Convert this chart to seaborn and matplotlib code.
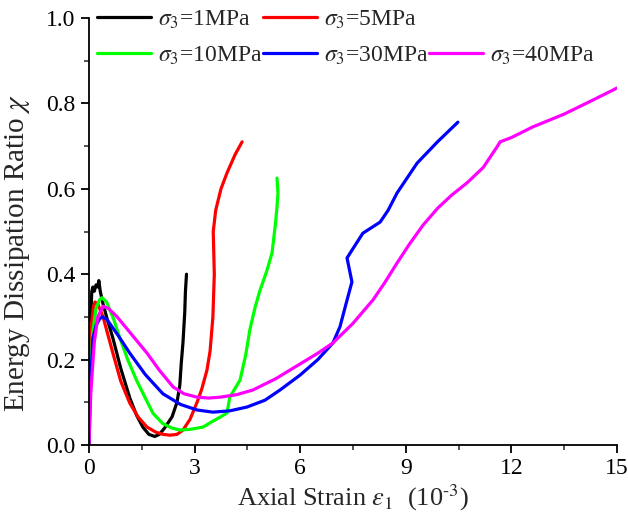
import matplotlib
matplotlib.use("Agg")
import matplotlib.pyplot as plt
from matplotlib.lines import Line2D
from matplotlib.ticker import MultipleLocator
import numpy as np
import pandas as pd
import seaborn as sns

# Energy dissipation ratio vs axial strain (strain in 1e-3) for each confining pressure
x_1 = [0, 0.02, 0.05, 0.08, 0.11, 0.15, 0.2, 0.25, 0.28, 0.32, 0.4, 0.5, 0.68, 0.9,
       1.16, 1.35, 1.53, 1.7, 1.87, 2.0, 2.15, 2.36, 2.5, 2.58, 2.62, 2.67, 2.72, 2.74, 2.77]
y_1 = [0, 0.15, 0.30, 0.36, 0.37, 0.36, 0.375, 0.37, 0.385, 0.36, 0.33, 0.30, 0.25, 0.18,
       0.11, 0.07, 0.042, 0.025, 0.02, 0.025, 0.04, 0.066, 0.10, 0.14, 0.19, 0.24, 0.31, 0.36, 0.40]

x_5 = [0, 0.03, 0.07, 0.12, 0.17, 0.25, 0.4, 0.68, 0.9, 1.16, 1.4, 1.65, 1.9, 2.1, 2.3,
       2.5, 2.67, 2.87, 3.07, 3.2, 3.35, 3.44, 3.52, 3.56, 3.53, 3.6, 3.75, 3.92, 4.15, 4.35]
y_5 = [0, 0.15, 0.28, 0.32, 0.335, 0.33, 0.30, 0.215, 0.15, 0.098, 0.065, 0.042, 0.03, 0.025, 0.023,
       0.025, 0.035, 0.06, 0.10, 0.13, 0.175, 0.22, 0.30, 0.40, 0.50, 0.55, 0.60, 0.637, 0.68, 0.71]

x_10 = [0, 0.04, 0.1, 0.2, 0.3, 0.37, 0.5, 0.7, 0.88, 1.1, 1.36, 1.6, 1.82, 2.1, 2.35, 2.59,
        2.9, 3.24, 3.5, 3.72, 3.92, 4.0, 4.29, 4.45, 4.57, 4.72, 4.85, 5.06, 5.2, 5.3, 5.34, 5.37, 5.34]
y_10 = [0, 0.14, 0.26, 0.32, 0.34, 0.345, 0.335, 0.295, 0.25, 0.20, 0.15, 0.11, 0.074, 0.05, 0.04, 0.035,
        0.037, 0.042, 0.055, 0.065, 0.075, 0.112, 0.152, 0.21, 0.27, 0.323, 0.36, 0.41, 0.45, 0.52, 0.557, 0.59, 0.625]

x_30 = [0, 0.03, 0.11, 0.2, 0.3, 0.37, 0.5, 0.8, 1.16, 1.6, 2.1, 2.6, 3.07, 3.52, 4.0, 4.49,
        5.0, 5.43, 6.0, 6.5, 6.93, 7.13, 7.3, 7.47, 7.4, 7.33, 7.5, 7.78, 8.27, 8.5, 8.75, 9.32, 9.9, 10.48]
y_30 = [0, 0.12, 0.25, 0.28, 0.295, 0.30, 0.295, 0.26, 0.215, 0.165, 0.12, 0.095, 0.082, 0.077, 0.08, 0.089,
        0.105, 0.129, 0.164, 0.2, 0.239, 0.277, 0.33, 0.382, 0.41, 0.438, 0.46, 0.496, 0.522, 0.55, 0.59, 0.66, 0.71, 0.756]

x_40 = [0, 0.05, 0.15, 0.25, 0.4, 0.55, 0.8, 1.2, 1.65, 2.0, 2.39, 2.7, 3.07, 3.4, 3.72, 4.2,
        4.66, 5.3, 6.0, 6.5, 6.93, 7.5, 8.07, 8.4, 8.75, 9.1, 9.49, 9.91, 10.3, 10.74, 11.2,
        11.59, 11.68, 12.0, 12.61, 13.5, 14.32, 15.0]
y_40 = [0, 0.12, 0.24, 0.3, 0.325, 0.32, 0.3, 0.26, 0.215, 0.175, 0.136, 0.12, 0.112, 0.11, 0.112, 0.118,
        0.129, 0.155, 0.19, 0.215, 0.239, 0.285, 0.34, 0.38, 0.426, 0.47, 0.515, 0.555, 0.585, 0.614, 0.65,
        0.698, 0.71, 0.72, 0.745, 0.775, 0.808, 0.836]

pressures = ["1", "5", "10", "30", "40"]
colors = ["#000000", "#ff0000", "#00ff00", "#0000ff", "#ff00ff"]
series = [(x_1, y_1), (x_5, y_5), (x_10, y_10), (x_30, y_30), (x_40, y_40)]

labels = [rf"$\sigma_3$={p}MPa" for p in pressures]
frames = []
for lab, (xs, ys) in zip(labels, series):
    frames.append(pd.DataFrame({"strain": xs, "ratio": ys, "case": lab,
                                "idx": np.arange(len(xs))}))
df = pd.concat(frames, ignore_index=True)

sns.set_style("ticks")
plt.rcParams["font.family"] = ["Liberation Serif", "DejaVu Serif"]
plt.rcParams["mathtext.fontset"] = "stix"

fig = plt.figure(figsize=(6.28, 5.2), dpi=100)
ax = fig.add_axes([0.1417, 0.1442, 0.8408, 0.8212])

sns.lineplot(data=df, x="strain", y="ratio", hue="case", hue_order=labels,
             palette=dict(zip(labels, colors)), sort=False, estimator=None,
             units="case", linewidth=2.3, legend=False, ax=ax)

ax.set_xlim(0, 15)
ax.set_ylim(0, 1.0)
ax.xaxis.set_major_locator(MultipleLocator(3))
ax.xaxis.set_minor_locator(MultipleLocator(1.5))
ax.yaxis.set_major_locator(MultipleLocator(0.2))
ax.yaxis.set_minor_locator(MultipleLocator(0.1))
ax.set_xticklabels([f"{int(v)}" for v in ax.get_xticks()])
ax.set_yticklabels([f"{v:.1f}" for v in ax.get_yticks()])

for s in ["top", "right"]:
    ax.spines[s].set_visible(False)
for s in ["left", "bottom"]:
    ax.spines[s].set_linewidth(1.3)
    ax.spines[s].set_color("black")
ax.tick_params(which="major", direction="out", length=6, width=1.3, labelsize=17,
               colors="black")
ax.tick_params(which="minor", direction="out", length=3.5, width=1.1)

ax.set_xlabel(r"Axial Strain $\varepsilon_1$  (10$^{\text{-3}}$)", fontsize=19, labelpad=2)
ax.set_ylabel(r"Energy Dissipation Ratio $\chi$", fontsize=21)
ax.yaxis.set_label_coords(-0.108, 0.45)

# legend laid out as 2 rows: first row holds 1 and 5 MPa, second row the rest
handles = [Line2D([], [], color=c, lw=2.3) for c in colors]
blank = Line2D([], [], color="none")
leg_handles = [handles[0], handles[2], handles[1], handles[3], blank, handles[4]]
leg_labels = [labels[0], labels[2], labels[1], labels[3], "", labels[4]]
ax.legend(leg_handles, leg_labels, ncol=3, loc="upper left", bbox_to_anchor=(-0.003, 1.045),
          frameon=False, fontsize=17, handlelength=2.3, handletextpad=0.3,
          columnspacing=0.0, labelspacing=0.6, borderaxespad=0.0)

fig.savefig("out.png", dpi=100)
